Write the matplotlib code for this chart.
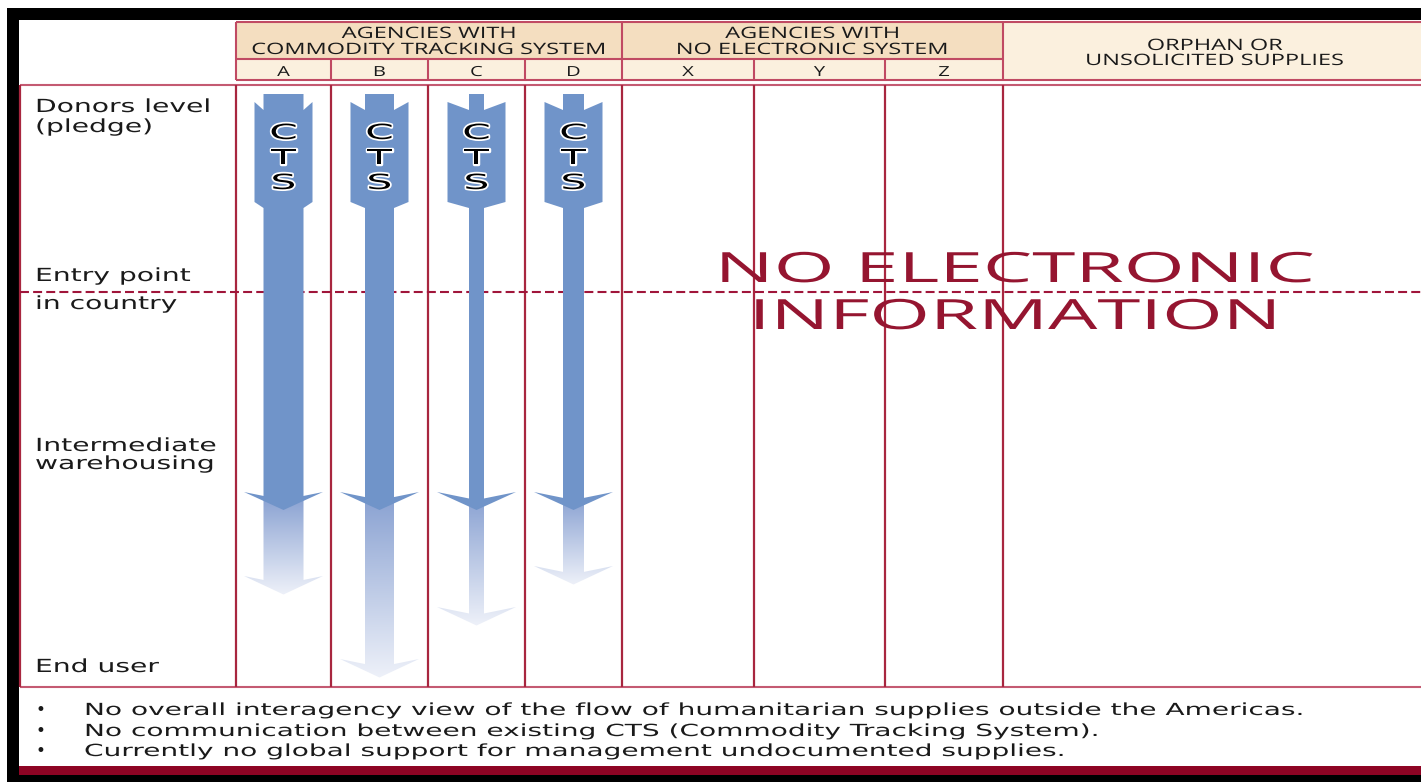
import numpy as np
import matplotlib
matplotlib.use("Agg")
import matplotlib.pyplot as plt
from matplotlib.patches import Polygon, Rectangle
from matplotlib.patheffects import AbstractPathEffect
from matplotlib.transforms import Affine2D
from matplotlib.path import Path
from matplotlib.colors import LinearSegmentedColormap


OUT_FIG = "out.png"

# --- chart content -------------------------------------------------------
group_titles = [
    ["AGENCIES WITH", "COMMODITY TRACKING SYSTEM"],
    ["AGENCIES WITH", "NO ELECTRONIC SYSTEM"],
    ["ORPHAN OR", "UNSOLICITED SUPPLIES"],
]
agency_letters = ["A", "B", "C", "D", "X", "Y", "Z"]
stage_labels = ["Donors level", "(pledge)", "Entry point", "in country",
                "Intermediate", "warehousing", "End user"]

# agencies with a CTS: width of the tracked flow and where tracking fades out
cts_agencies = ["A", "B", "C", "D"]
flow_width = [40, 29, 15, 21]
fade_reach = [576, 659, 607, 566]

no_info_text = ["NO ELECTRONIC", "INFORMATION"]
bullets = [
    "No overall interagency view of the flow of humanitarian supplies outside the Americas.",
    "No communication between existing CTS (Commodity Tracking System).",
    "Currently no global support for management undocumented supplies.",
]

# --- layout (pixels of the 1421 x 782 picture) ---------------------------
W, H = 1421, 782
EDGES = [236, 331, 428, 525, 622, 754, 885, 1003]
HDR_TOP, HDR_MID, HDR_BOT = 22, 59, 80
BODY_TOP, BODY_BOT = 85, 687
STAGE_BASE = [112, 132, 281, 309, 451, 469, 672]
BULLET_BASE = [715, 736, 756]

TAN = "#F4DEC0"
CREAM = "#FBF0DE"
HDR_LINE = "#C04A63"
BODY_LINE = "#A8263F"
DARK_RED = "#951530"
BLUE = "#7094C9"


class Stretch(AbstractPathEffect):
    """Draw text glyphs widened horizontally (the source picture is stretched)."""

    def __init__(self, sx, anchor="left", stroke=None, stroke_color="white"):
        super().__init__()
        self.sx = sx
        self.anchor = anchor
        self.stroke = stroke
        self.stroke_color = stroke_color

    def draw_path(self, renderer, gc, tpath, affine, rgbFace=None):
        x0 = 0.0
        if self.anchor == "center" and len(tpath.vertices):
            xs = tpath.vertices[:, 0]
            if tpath.codes is not None:
                xs = xs[tpath.codes != Path.CLOSEPOLY]
            if len(xs):
                x0 = (xs.min() + xs.max()) / 2
        aff = Affine2D().translate(-x0, 0).scale(self.sx, 1).translate(x0, 0) + affine
        if self.stroke:
            gc0 = renderer.new_gc()
            gc0.copy_properties(gc)
            gc0.set_linewidth(self.stroke)
            gc0.set_foreground(self.stroke_color)
            gc0.set_joinstyle("round")
            renderer.draw_path(gc0, tpath, aff, rgbFace)
            gc0.restore()
        renderer.draw_path(gc, tpath, aff, rgbFace)


def stext(ax, x, y, s, size, sx, ha="left", family="DejaVu Sans",
          color="#1a1a1a", stroke=None, z=10, weight="normal"):
    anchor = "center" if ha == "center" else "left"
    ax.text(x, y, s, fontsize=size, ha=ha, va="baseline", family=family,
            color=color, zorder=z, fontweight=weight,
            path_effects=[Stretch(sx, anchor, stroke=stroke)])


def hline(ax, y, x0, x1, color, lw=1.5, **kw):
    ax.plot([x0, x1], [y, y], color=color, lw=lw, solid_capstyle="butt", **kw)


def vline(ax, x, y0, y1, color, lw=1.5, **kw):
    ax.plot([x, x], [y0, y1], color=color, lw=lw, solid_capstyle="butt", **kw)


def main():
    fig = plt.figure(figsize=(W / 100, H / 100), dpi=100)
    ax = fig.add_axes([0, 0, 1, 1])

    # black frame, white page, dark red foot band
    ax.add_patch(Rectangle((7, 8), W - 7, H - 8, fc="black", ec="none", zorder=0))
    ax.add_patch(Rectangle((19, 20), W - 19, 766 - 20, fc="white", ec="none", zorder=0))
    ax.add_patch(Rectangle((19, 766), W - 19, 9, fc="#8E0424", ec="none", zorder=0))

    # header cells
    ax.add_patch(Rectangle((EDGES[0], HDR_TOP), EDGES[4] - EDGES[0], HDR_MID - HDR_TOP, fc=TAN, ec="none", zorder=1))
    ax.add_patch(Rectangle((EDGES[4], HDR_TOP), EDGES[7] - EDGES[4], HDR_MID - HDR_TOP, fc=TAN, ec="none", zorder=1))
    ax.add_patch(Rectangle((EDGES[0], HDR_MID), EDGES[7] - EDGES[0], HDR_BOT - HDR_MID, fc=CREAM, ec="none", zorder=1))
    ax.add_patch(Rectangle((EDGES[7], HDR_TOP), W - EDGES[7], HDR_BOT - HDR_TOP, fc=CREAM, ec="none", zorder=1))

    hline(ax, HDR_TOP, EDGES[0], W, HDR_LINE)
    hline(ax, HDR_BOT, EDGES[0], W, HDR_LINE)
    hline(ax, HDR_MID, EDGES[0], EDGES[7], HDR_LINE)
    for x in (EDGES[0], EDGES[4], EDGES[7]):
        vline(ax, x, HDR_TOP, HDR_BOT, HDR_LINE)
    for x in EDGES[1:4] + EDGES[5:7]:
        vline(ax, x, HDR_MID, HDR_BOT, HDR_LINE)

    # header texts
    spans = [(EDGES[0], EDGES[4]), (EDGES[4], EDGES[7])]
    for (x0, x1), lines in zip(spans, group_titles[:2]):
        cx = (x0 + x1) / 2
        stext(ax, cx, 38, lines[0], 11.3, 1.5, ha="center", family="Open Sans")
        stext(ax, cx, 54, lines[1], 11.3, 1.5, ha="center", family="Open Sans")
    cx = (EDGES[7] + W) / 2 + 3
    stext(ax, cx, 50, group_titles[2][0], 11.3, 1.5, ha="center", family="Open Sans")
    stext(ax, cx, 65, group_titles[2][1], 11.3, 1.5, ha="center", family="Open Sans")
    for i, letter in enumerate(agency_letters):
        cx = (EDGES[i] + EDGES[i + 1]) / 2
        stext(ax, cx, 76, letter, 10, 1.45, ha="center", family="Open Sans")

    # body grid
    hline(ax, BODY_TOP, 20, W, "#C45A72")
    hline(ax, BODY_BOT, 20, W, "#C45A72")
    for x in [20] + EDGES:
        vline(ax, x, BODY_TOP, BODY_BOT, BODY_LINE, lw=1.6, zorder=2)
    ax.plot([20, W], [292, 292], color="#A0153A", lw=1.5,
            linestyle=(0, (4.3, 2.0)), zorder=2)

    # stage labels
    for lab, yb in zip(stage_labels, STAGE_BASE):
        stext(ax, 35, yb, lab, 13, 1.56)

    # CTS arrows
    fade = LinearSegmentedColormap.from_list("fade", ["#8AA2D2", "#EEF1F9"])
    grad = np.linspace(0, 1, 256).reshape(-1, 1)
    h, f = 39.5, 29
    for i, name in enumerate(cts_agencies):
        cx = (EDGES[i] + EDGES[i + 1]) / 2
        s = flow_width[i] / 2
        g = fade_reach[i]
        yi = 492 + 8 * (h - s) / h
        gi = g + 8 * (h - s) / h

        # fading continuation (drawn first, behind the solid arrow)
        ghost = Polygon([(cx - s, 495), (cx + s, 495), (cx + s, gi), (cx + h, g),
                         (cx, g + 18.5), (cx - h, g), (cx - s, gi)],
                        closed=True, fc="none", ec="none")
        ax.add_patch(ghost)
        im = ax.imshow(grad, cmap=fade, extent=(cx - h, cx + h, g + 19, 497),
                       origin="upper", aspect="auto", interpolation="bilinear",
                       zorder=3)
        im.set_clip_path(ghost)

        solid = Polygon([(cx - s, 94), (cx + s, 94), (cx + s, 110), (cx + f, 102),
                         (cx + f, 202), (cx + s, 208), (cx + s, yi), (cx + h, 492),
                         (cx, 510), (cx - h, 492), (cx - s, yi), (cx - s, 208),
                         (cx - f, 202), (cx - f, 102), (cx - s, 110)],
                        closed=True, fc=BLUE, ec="none", zorder=4)
        ax.add_patch(solid)

        for ch, yb in zip("CTS", (139, 164, 189)):
            stext(ax, cx, yb, ch, 15, 1.95, ha="center", color="black",
                  stroke=2.5, z=6)

    # no electronic information
    stext(ax, 1016, 282, no_info_text[0], 30, 1.88, ha="center",
          family="Open Sans", color=DARK_RED, z=7)
    stext(ax, 1015, 329, no_info_text[1], 30, 1.87, ha="center",
          family="Open Sans", color=DARK_RED, z=7)

    # bullet notes
    for txt, yb in zip(bullets, BULLET_BASE):
        ax.text(40, yb - 5, "\u2022", fontsize=12, ha="center", va="center",
                color="#1a1a1a", zorder=10)
        stext(ax, 84, yb, txt, 12, 1.68)

    ax.set_xlim(0, W)
    ax.set_ylim(H, 0)
    ax.axis("off")

    fig.savefig(OUT_FIG, dpi=100, facecolor="white")


if __name__ == "__main__":
    main()
